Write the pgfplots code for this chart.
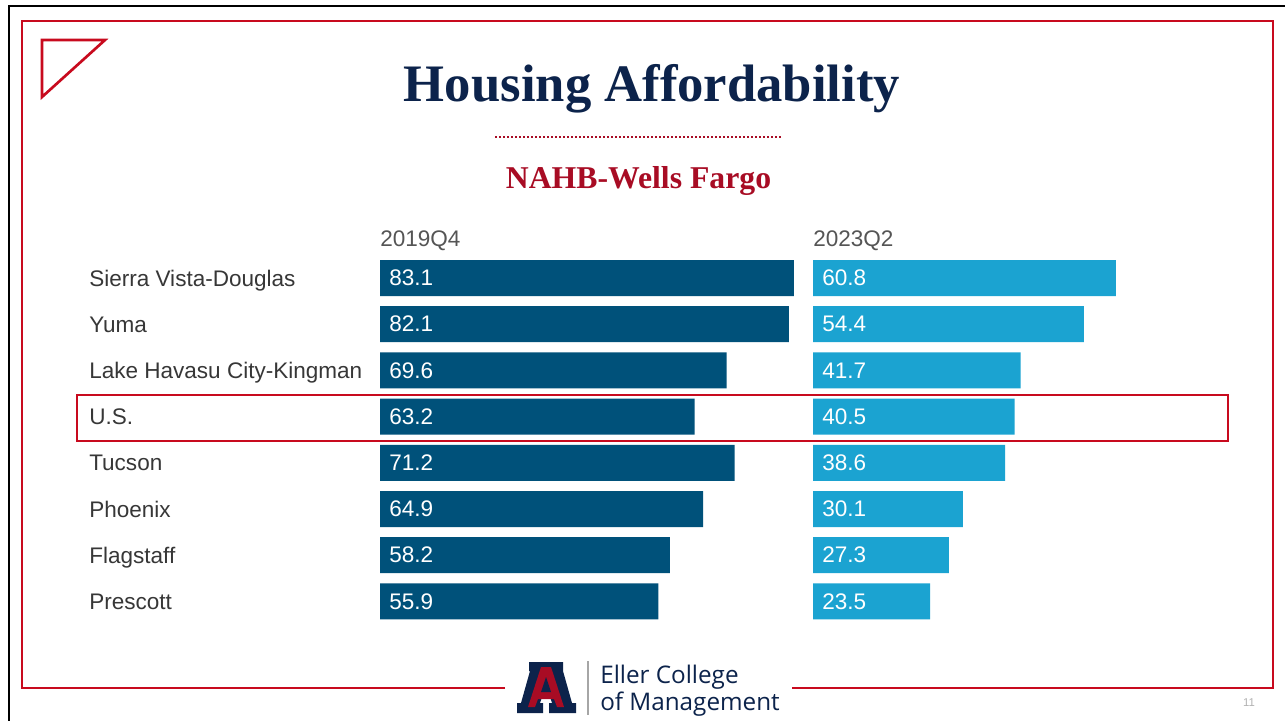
\documentclass[border=0pt]{standalone}
\usepackage{pgfplots}
\pgfplotsset{compat=1.18}
\usepackage{pgfplotstable}
\usepackage{fontspec}
\setmainfont{Liberation Sans}
\newfontfamily\timesbf{Liberation Serif}
\newfontfamily\logofont{Open Sans}

\definecolor{darkbar}{RGB}{0,81,122}
\definecolor{lightbar}{RGB}{27,163,209}
\definecolor{framered}{RGB}{200,10,30}
\definecolor{subred}{RGB}{168,12,36}
\definecolor{navy}{RGB}{12,35,75}
\definecolor{labelgray}{RGB}{55,55,55}
\definecolor{headgray}{RGB}{85,85,85}

% affordability index by metro, 2019Q4 and 2023Q2
\pgfplotstableread[col sep=comma]{
idx,city,old,new
0,Sierra Vista-Douglas,83.1,60.8
1,Yuma,82.1,54.4
2,Lake Havasu City-Kingman,69.6,41.7
3,U.S.,63.2,40.5
4,Tucson,71.2,38.6
5,Phoenix,64.9,30.1
6,Flagstaff,58.2,27.3
7,Prescott,55.9,23.5
}\data

\pgfplotsset{
  barpanel/.style={
    anchor=north west,
    x=3.735pt, y=34.65pt, y dir=reverse,
    xmin=0, ymin=-0.5, ymax=7.5,
    axis line style={draw=none},
    tick style={draw=none},
    xtick=\empty, ytick=\empty,
    clip=false,
  },
  vallabel/.style={
    draw=none, mark=none, nodes near coords,
    point meta=explicit symbolic,
    every node near coord/.append style={anchor=west, inner sep=0pt,
      xshift=6.75pt, text=white, font=\fontsize{16.9}{18}\selectfont},
  },
}

\begin{document}
\begin{tikzpicture}
\begin{scope}[x=0.75pt,y=-0.75pt]
  \useasboundingbox (0,0) rectangle (1285,721);
  \fill[white] (0,0) rectangle (1285,721);
  % slide borders
  \draw[black, line width=2.2pt] (9,721) -- (9,6) -- (1285,6);
  \draw[framered, line width=2pt] (505,688) -- (22,688) -- (22,21) -- (1273,21) -- (1273,688) -- (792,688);
  \draw[framered, line width=2pt, line join=miter] (42,40) -- (105,40) -- (42,97) -- cycle;
  % titles
  \node[anchor=base, text=navy, font=\timesbf\bfseries\fontsize{39.5}{44}\selectfont] at (652,101) {Housing Affordability};
  \draw[subred, line width=1.4pt, dash pattern=on 1.2pt off 1.8pt] (495,137) -- (782,137);
  \node[anchor=base, text=subred, font=\timesbf\bfseries\fontsize{23.8}{28}\selectfont] at (638.5,188) {NAHB-Wells Fargo};
  % column headers
  \node[anchor=base west, inner sep=0pt, text=headgray, font=\fontsize{16.9}{18}\selectfont] at (380,246) {2019Q4};
  \node[anchor=base west, inner sep=0pt, text=headgray, font=\fontsize{16.9}{18}\selectfont] at (813,246) {2023Q2};
  % U.S. highlight
  \draw[framered, line width=0.9pt] (77,395) rectangle (1228,441);
  % logo
  \fill[navy] (529,662) -- (563,662) -- (563,671) -- (572,703) -- (576,703) -- (576,713) -- (549,713)
    -- (549,703) -- (552,703) -- (550,697) -- (542,697) -- (540,703) -- (543,703) -- (543,713)
    -- (517,713) -- (517,703) -- (521,703) -- (530,671) -- (529,671) -- cycle;
  \fill[subred] (541,667) -- (551,667) -- (564,707) -- (557,707) -- (554,699) -- (538,699)
    -- (535,707) -- (528,707) -- cycle;
  \fill[navy] (541,692) -- (551,692) -- (546,677) -- cycle;
  \draw[gray!70, line width=0.8pt] (588,661) -- (588,715);
  \node[anchor=base west, inner sep=0pt, text=navy, font=\logofont\fontsize{18.2}{20}\selectfont] at (600,683) {Eller College};
  \node[anchor=base west, inner sep=0pt, text=navy, font=\logofont\fontsize{18.2}{20}\selectfont] at (600,710) {of Management};
  \node[text=gray!60, font=\fontsize{8.5}{9}\selectfont] at (1249,703) {11};
\end{scope}

% left panel: 2019Q4
\begin{axis}[barpanel, at={(285pt,-191.175pt)}, xmax=90,
  ytick={0,...,7}, yticklabels from table={\data}{city},
  yticklabel style={anchor=base west, inner sep=0pt, xshift=-218.25pt, yshift=-6pt,
    text=labelgray, font=\fontsize{16.9}{18}\selectfont}]
  \addplot[xbar, bar width=27pt, fill=darkbar, draw=none] table[x=old, y=idx]{\data};
  \addplot[vallabel] table[x expr=0, y=idx, meta=old]{\data};
\end{axis}

% right panel: 2023Q2
\begin{axis}[barpanel, at={(609.75pt,-191.175pt)}, xmax=70]
  \addplot[xbar, bar width=27pt, fill=lightbar, draw=none] table[x=new, y=idx]{\data};
  \addplot[vallabel] table[x expr=0, y=idx, meta=new]{\data};
\end{axis}
\end{tikzpicture}
\end{document}
